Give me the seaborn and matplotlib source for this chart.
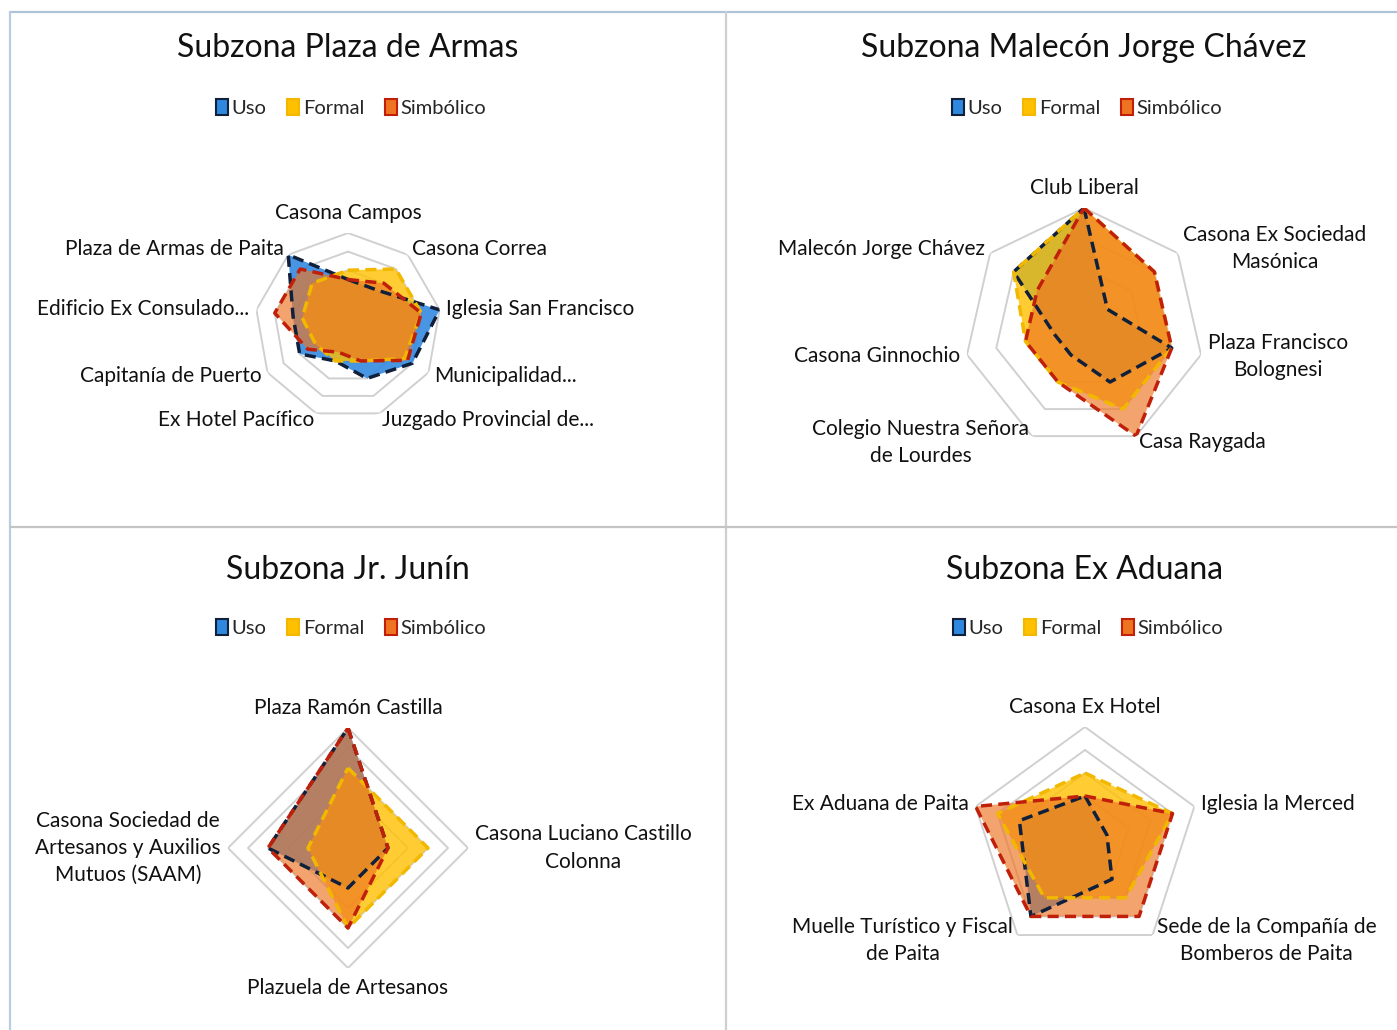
import numpy as np
import matplotlib
matplotlib.use("Agg")
import matplotlib.pyplot as plt
from matplotlib.patches import Patch
from matplotlib.lines import Line2D
import seaborn as sns

# ---------------------------------------------------------------
# Data (scores)
# ---------------------------------------------------------------
series = ["Uso", "Formal", "Simbólico"]

armas_cats = ["Casona Campos", "Casona Correa", "Iglesia San Francisco", "Municipalidad...",
              "Juzgado Provincial de...", "Ex Hotel Pacífico", "Capitanía de Puerto",
              "Edificio Ex Consulado...", "Plaza de Armas de Paita"]
armas_uso = [2.5, 2.5, 5, 4, 3, 2, 3, 3, 5]
armas_formal = [3, 4, 4, 3.5, 2, 2, 2, 2.5, 3]
armas_simb = [2.5, 3, 4, 3.7, 2, 1.5, 2.5, 4, 4]

malecon_cats = ["Club Liberal", "Casona Ex Sociedad\nMasónica", "Plaza Francisco\nBolognesi",
                "Casa Raygada", "Colegio Nuestra Señora\nde Lourdes", "Casona Ginnochio",
                "Malecón Jorge Chávez"]
malecon_uso = [4, 1, 3, 2, 1, 1, 3]
malecon_formal = [4, 3, 3, 3, 2, 2, 3]
malecon_simb = [4, 3, 3, 4, 2, 2, 2]

junin_cats = ["Plaza Ramón Castilla", "Casona Luciano Castillo\nColonna", "Plazuela de Artesanos",
              "Casona Sociedad de\nArtesanos y Auxilios\nMutuos (SAAM)"]
junin_uso = [6, 2, 2, 4]
junin_formal = [4, 4, 4, 2]
junin_simb = [6, 2, 4, 4]

aduana_cats = ["Casona Ex Hotel", "Iglesia la Merced", "Sede de la Compañía de\nBomberos de Paita",
               "Muelle Turístico y Fiscal\nde Paita", "Ex Aduana de Paita"]
aduana_uso = [2, 1, 2, 4, 3]
aduana_formal = [3, 4, 3, 3, 4]
aduana_simb = [2, 4, 4, 4, 5]

# ---------------------------------------------------------------
# Style
# ---------------------------------------------------------------
sns.set_style("white")
plt.rcParams['font.family'] = ['Lato', 'DejaVu Sans']

fill_cols = ["#2E88E0", "#FFC000", "#EE7422"]
fill_alpha = [0.88, 0.8, 0.66]
edge_cols = ["#10203A", "#F2B800", "#C0200A"]

W, H = 1397, 1030
fig = plt.figure(figsize=(W / 100, H / 100), dpi=100)


def fx(x):
    return x / W


def fy(y):
    return 1 - y / H


def radar(cx, cy, R, rmax, cats, vals, title, title_y, leg_y):
    ax = fig.add_axes([fx(cx - R), fy(cy + R), 2 * R / W, 2 * R / H], projection='polar')
    ax.set_theta_zero_location('N')
    ax.set_theta_direction(-1)
    ax.set_ylim(0, rmax)
    ax.axis('off')

    n = len(cats)
    ang = np.arange(n) * 2 * np.pi / n
    th = np.append(ang, ang[0])

    # polygon grid rings
    for k in range(1, rmax + 1):
        ax.plot(th, [k] * (n + 1), color="#D0D0D0", lw=1.4, zorder=1)

    for v, fc, a, ec in zip(vals, fill_cols, fill_alpha, edge_cols):
        r = np.append(v, v[0])
        ax.fill(th, r, color=fc, alpha=a, lw=0, zorder=2)
        sns.lineplot(x=th, y=r, ax=ax, sort=False, estimator=None, color=ec,
                     lw=2.5, linestyle=(0, (3.2, 1.8)), zorder=3)
    ax.set_ylim(0, rmax)

    # category labels placed just outside the outer ring
    for a_, lab in zip(ang, cats):
        s, c = np.sin(a_), np.cos(a_)
        vx, vy = cx + R * s, cy - R * c
        if abs(s) < 0.05:
            x, y, ha = vx, vy - 20 * np.sign(c), 'center'
        else:
            x, y = vx + 7 * s, vy - 7 * c
            ha = 'left' if s > 0 else 'right'
        fig.text(fx(x), fy(y), lab, ha=ha, va='center', multialignment='center',
                 fontsize=15, color="#111111", linespacing=1.45)

    fig.text(fx(cx), fy(title_y), title, ha='center', va='center', fontsize=23, color="#111111")

    handles = [Patch(facecolor=fc, edgecolor=ec, lw=1.5) for fc, ec in zip(fill_cols, edge_cols)]
    fig.legend(handles, series, loc='center', bbox_to_anchor=(fx(cx + 3), fy(leg_y)), ncol=3,
               frameon=False, fontsize=14.5, handlelength=0.6, handleheight=0.8,
               handletextpad=0.2, columnspacing=1.0)


radar(348, 326, 93, 5, armas_cats, [armas_uso, armas_formal, armas_simb],
      "Subzona Plaza de Armas", 48, 108)
radar(1084, 328, 120, 4, malecon_cats, [malecon_uso, malecon_formal, malecon_simb],
      "Subzona Malecón Jorge Chávez", 48, 108)
radar(348, 848, 120, 6, junin_cats, [junin_uso, junin_formal, junin_simb],
      "Subzona Jr. Junín", 570, 628)
radar(1085, 842, 115, 5, aduana_cats, [aduana_uso, aduana_formal, aduana_simb],
      "Subzona Ex Aduana", 570, 628)

# panel frame lines
for xs, ys, col in [((10, 1397), (12, 12), "#AEC2DA"),
                    ((10, 10), (12, 1030), "#B9CCE4"),
                    ((726, 726), (12, 1030), "#CFCFCF"),
                    ((10, 1397), (527, 527), "#C4C4C4")]:
    fig.add_artist(Line2D([fx(xs[0]), fx(xs[1])], [fy(ys[0]), fy(ys[1])], color=col, lw=1.6))

fig.savefig("out.png", dpi=100, facecolor="white")
